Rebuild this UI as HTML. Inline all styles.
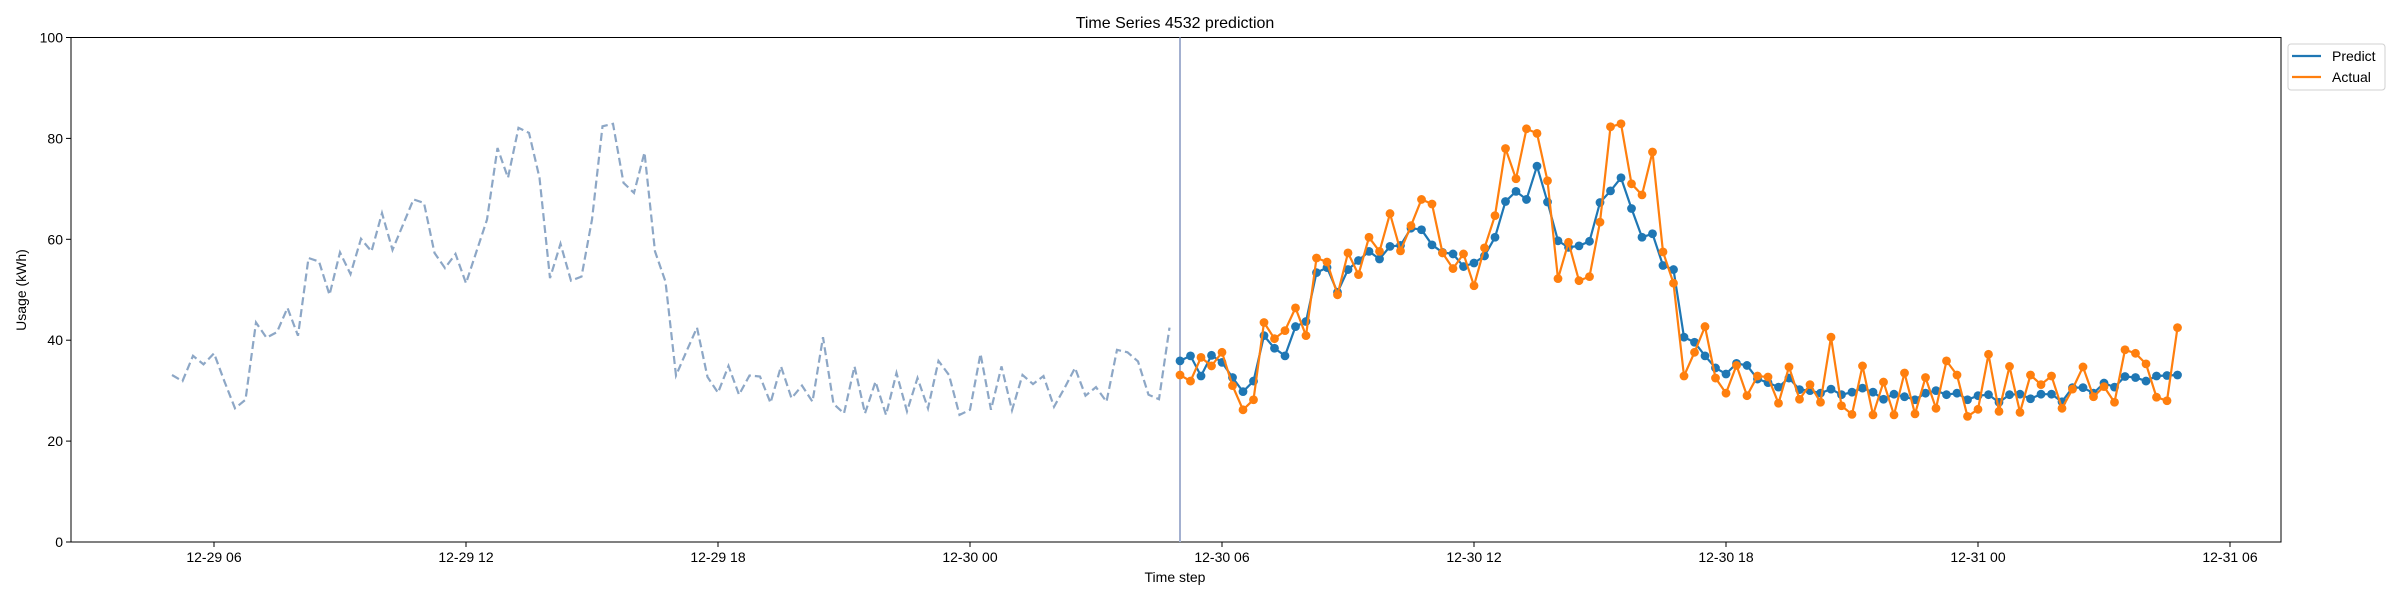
<!DOCTYPE html>
<html><head><meta charset="utf-8"><style>
html,body{margin:0;padding:0;background:#fff;}
svg{display:block;font-family:"Liberation Sans","DejaVu Sans",sans-serif;}
</style></head><body>
<svg id="chart" width="2400" height="600" viewBox="0 0 2400 600" xmlns="http://www.w3.org/2000/svg">
<rect x="0" y="0" width="2400" height="600" fill="#fff"/>
<text x="1175" y="28" font-size="16" text-anchor="middle" fill="#000">Time Series 4532 prediction</text>
<text x="1175" y="582" font-size="14" text-anchor="middle" fill="#000">Time step</text>
<text x="26" y="290" font-size="14" text-anchor="middle" fill="#000" transform="rotate(-90 26 290)">Usage (kWh)</text>
<g id="grid-layer"></g>
<g id="legend">
<rect x="2288" y="44" width="97" height="46" rx="3" fill="#fff" stroke="#d0d0d0"/>
<line x1="2292" y1="56" x2="2321" y2="56" stroke="#1f77b4" stroke-width="2.2"/>
<text x="2332" y="61" font-size="14">Predict</text>
<line x1="2292" y1="77" x2="2321" y2="77" stroke="#ff7f0e" stroke-width="2.2"/>
<text x="2332" y="82" font-size="14">Actual</text>
</g>
</svg>
<script>
const historyValues = [33.1,31.9,36.9,35.2,37.4,31.8,26.5,28.2,43.5,40.5,41.6,46.4,40.9,56.3,55.6,49.0,57.4,53.1,60.1,57.6,65.2,57.9,62.9,67.9,67.2,57.3,54.3,57.1,51.3,57.6,63.9,78.1,72.2,82.1,81.1,72.2,52.3,59.1,51.8,52.6,63.9,82.4,82.9,71.2,69.2,77.2,57.6,51.6,33.0,37.8,42.5,32.7,29.6,34.9,29.2,33.0,32.8,27.6,34.8,28.5,31.0,27.8,40.6,27.4,25.5,34.8,25.5,31.8,25.2,33.5,25.9,32.5,26.5,35.9,33.1,25.2,26.2,37.3,26.2,34.8,26.1,33.1,31.3,32.9,26.8,30.5,34.5,29.0,30.7,27.8,38.1,37.6,35.8,29.2,28.3,42.5];
const predictValues = [35.9,36.9,32.9,37.0,35.6,32.6,29.8,31.9,40.9,38.4,36.9,42.7,43.7,53.4,54.4,49.5,54.0,55.8,57.6,56.1,58.6,58.8,62.2,61.9,58.9,57.4,57.1,54.6,55.3,56.7,60.4,67.5,69.5,67.9,74.5,67.4,59.7,58.4,58.7,59.6,67.3,69.6,72.2,66.1,60.4,61.1,54.8,54.0,40.6,39.6,36.9,34.5,33.3,35.4,35.0,32.3,31.6,30.7,32.5,30.2,30.0,29.5,30.3,29.2,29.7,30.5,29.7,28.3,29.3,28.8,28.2,29.5,30.0,29.2,29.5,28.2,29.0,29.2,27.7,29.2,29.3,28.4,29.3,29.3,27.8,30.6,30.6,29.5,31.5,30.7,32.8,32.6,31.9,32.9,33.0,33.1];
const actualValues = [33.1,31.9,36.6,34.9,37.6,31.0,26.2,28.2,43.5,40.3,41.9,46.4,40.9,56.3,55.5,49.0,57.3,53.0,60.4,57.6,65.1,57.7,62.7,67.9,67.0,57.3,54.2,57.1,50.8,58.3,64.7,78.0,72.0,81.9,81.0,71.6,52.2,59.4,51.8,52.6,63.4,82.3,82.9,71.0,68.8,77.3,57.5,51.3,32.9,37.6,42.7,32.5,29.5,35.0,29.0,32.9,32.7,27.5,34.7,28.3,31.2,27.7,40.6,27.0,25.3,34.9,25.2,31.7,25.2,33.5,25.4,32.6,26.5,35.9,33.1,24.9,26.3,37.2,25.9,34.8,25.7,33.1,31.2,32.9,26.5,30.3,34.7,28.8,30.8,27.7,38.1,37.4,35.3,28.7,28.0,42.5];
const historyStartHour = 5;      // hours since 12-29 00:00
const predictStartHour = 29;     // 12-30 05:00
const stepHours = 0.25;
const xTickLabels = ["12-29 06","12-29 12","12-29 18","12-30 00","12-30 06","12-30 12","12-30 18","12-31 00","12-31 06"];
const xTickHours = [6,12,18,24,30,36,42,48,54];
const yTickValues = [0,20,40,60,80,100];

const NS = "http://www.w3.org/2000/svg";
const plotLeft = 71, plotRight = 2281, plotTop = 37.5, plotBottom = 542;
function xScale(h){ return 970 + (h - 24) * 42; }
function yScale(v){ return plotBottom - v * (plotBottom - plotTop) / 100; }
const layer = document.getElementById('grid-layer');
function mk(tag, attrs){ const e = document.createElementNS(NS, tag); for (const k in attrs) e.setAttribute(k, attrs[k]); layer.appendChild(e); return e; }

// axes frame
const frame = mk('rect', {x: plotLeft, y: plotTop, width: plotRight - plotLeft, height: plotBottom - plotTop, fill: 'none', stroke: '#000', 'stroke-width': 1});



// y ticks
yTickValues.forEach(v => {
  const y = yScale(v);
  const t = mk('line', {x1: plotLeft - 5, y1: y, x2: plotLeft, y2: y, stroke: '#000'});
  
  
  const l = mk('text', {x: plotLeft - 8, y: y + 5, 'font-size': 14, 'text-anchor': 'end', fill: '#000'});
  l.textContent = String(v);
  
  
});
// x ticks
xTickHours.forEach((h, i) => {
  const x = xScale(h);
  const t = mk('line', {x1: x, y1: plotBottom, x2: x, y2: plotBottom + 5, stroke: '#000'});
  
  
  const l = mk('text', {x: x, y: plotBottom + 20, 'font-size': 14, 'text-anchor': 'middle', fill: '#000'});
  l.textContent = xTickLabels[i];
  
  
});

// history dashed line
const hp = historyValues.map((v, i) => xScale(historyStartHour + i * stepHours).toFixed(1) + ',' + yScale(v).toFixed(1)).join(' ');
const hl = mk('polyline', {points: hp, fill: 'none', stroke: '#8da7c6', 'stroke-width': 2.2, 'stroke-dasharray': '8,4'});



// vertical divider
const vx = xScale(predictStartHour);
const vl = mk('line', {x1: vx, y1: plotTop, x2: vx, y2: plotBottom, stroke: '#a3b0d0', 'stroke-width': 2});



function series(vals, color, name){
  const pts = vals.map((v, i) => xScale(predictStartHour + i * stepHours).toFixed(1) + ',' + yScale(v).toFixed(1)).join(' ');
  const pl = mk('polyline', {points: pts, fill: 'none', stroke: color, 'stroke-width': 2.2});
  
  
  vals.forEach((v, i) => {
    const c = mk('circle', {cx: xScale(predictStartHour + i * stepHours), cy: yScale(v), r: 4.4, fill: color});
    
    
  });
}
series(predictValues, '#1f77b4', 'predict');
series(actualValues, '#ff7f0e', 'actual');
</script>
</body></html>
